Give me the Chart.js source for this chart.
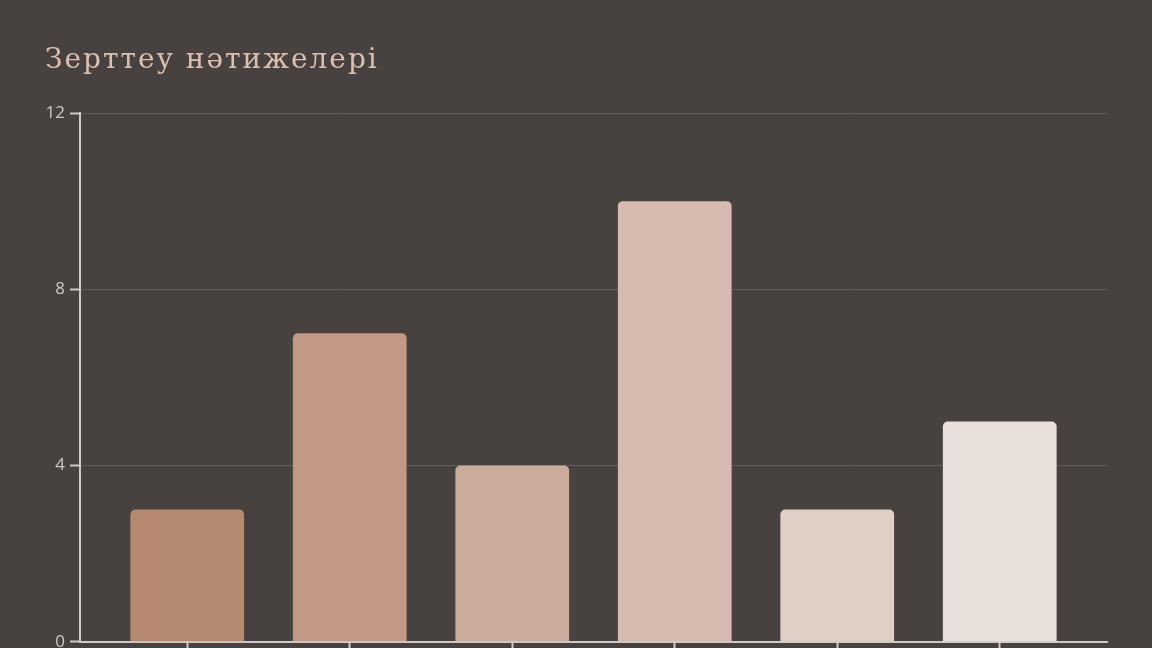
<!DOCTYPE html>
<html lang="kk">
<head>
    <meta charset="UTF-8">
    <title>Зерттеу нәтижелері</title>
    <script src="https://cdn.jsdelivr.net/npm/chart.js"></script>
    <style>
        html, body {
            margin: 0;
            padding: 0;
            background-color: #474240;
            overflow: hidden;
            width: 1152px;
            height: 648px;
        }
        #wrap {
            position: relative;
            width: 1152px;
            height: 657px;
        }
        /* заголовок */
        #chartTitle {
            position: absolute;
            left: 45px;
            top: 42px;
            margin: 0;
            font-family: 'DejaVu Serif', serif;
            font-size: 28px;
            font-weight: normal;
            letter-spacing: 2px;
            line-height: 34px;
            color: #dcc0af;
        }
    </style>
</head>
<body>
    <div id="wrap">
        <h1 id="chartTitle">Зерттеу нәтижелері</h1>
        <canvas id="resultsChart"></canvas>
    </div>

    <script>
        // деректер
        const categories = ['1', '2', '3', '4', '5', '6'];
        const values = [3, 7, 4, 10, 3, 5];
        const barColors = ['#b5896f', '#c39884', '#cbab9b', '#d6bcb0', '#e0cfc5', '#e9dfdb'];
        const yTicks = [0, 4, 8, 12];

        const axisColor = '#cfcac7';
        const gridColor = '#625d5b';

        const ctx = document.getElementById('resultsChart').getContext('2d');
        const resultsChart = new Chart(ctx, {
            type: 'bar',
            data: {
                datasets: [{
                    label: 'Зерттеу нәтижелері',
                    data: values.map((v, i) => ({ x: i, y: v })),
                    backgroundColor: barColors,
                    borderRadius: { topLeft: 5, topRight: 5 },
                    borderSkipped: 'bottom',
                    barPercentage: 0.7,
                    categoryPercentage: 1
                }]
            },
            options: {
                responsive: true,
                maintainAspectRatio: false,
                animation: false,
                layout: {
                    padding: { left: 45, right: 45, top: 113, bottom: 0 }
                },
                plugins: {
                    legend: { display: false },
                    title: { display: false },
                    tooltip: {
                        callbacks: {
                            title: items => categories[items[0].parsed.x]
                        }
                    }
                },
                scales: {
                    x: {
                        type: 'linear',
                        min: -0.66,
                        max: 5.66,
                        offset: false,
                        afterBuildTicks: axis => {
                            axis.ticks = categories.map((c, i) => ({ value: i }));
                        },
                        afterFit: axis => { axis.height = 11; },
                        ticks: { display: false },
                        grid: {
                            offset: false,
                            drawOnChartArea: false,
                            drawTicks: true,
                            tickLength: 10,
                            tickColor: axisColor,
                            tickWidth: 2
                        },
                        border: { color: axisColor, width: 2 }
                    },
                    y: {
                        min: 0,
                        max: 12,
                        afterBuildTicks: axis => {
                            axis.ticks = yTicks.map(v => ({ value: v }));
                        },
                        afterFit: axis => { axis.width = 35; },
                        ticks: {
                            color: '#cdc7c4',
                            padding: 5,
                            font: { family: 'Open Sans', size: 17 }
                        },
                        grid: {
                            color: gridColor,
                            lineWidth: 1,
                            drawTicks: true,
                            tickLength: 10,
                            tickColor: axisColor,
                            tickWidth: 2
                        },
                        border: { color: axisColor, width: 2 }
                    }
                }
            }
        });
    </script>
</body>
</html>
